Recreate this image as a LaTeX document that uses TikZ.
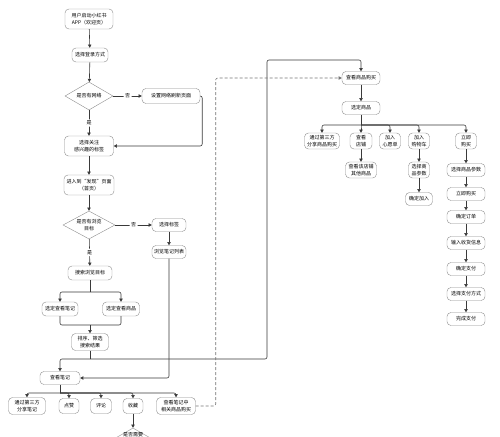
\documentclass[tikz,border=0pt]{standalone}
\usepackage{fontspec}
\setmainfont{Noto Sans CJK SC}
\usetikzlibrary{arrows.meta, shapes.geometric, positioning}
\definecolor{boxline}{HTML}{8C8C8C}
\definecolor{wire}{HTML}{3A3A3A}

\begin{document}
\begin{tikzpicture}[x=1pt, y=-1pt, >={Triangle[length=3.2pt,width=3.4pt]},
  flowbox/.style={draw=boxline, rounded corners=4pt, align=center, inner sep=1pt, font=\fontsize{5}{6.5}\selectfont},
  decide/.style={diamond, aspect=1.7, draw=boxline, inner sep=0pt, align=center, font=\fontsize{5}{6.5}\selectfont},
  link/.style={->, draw=wire, line width=0.6pt, rounded corners=2pt},
  plain/.style={draw=wire, line width=0.6pt, rounded corners=2pt},
  answer/.style={fill=white, inner sep=1.5pt, font=\fontsize{5}{6}\selectfont}]
  \useasboundingbox (0,0) rectangle (500,436);
  \clip (0,0) rectangle (500,436);
  % left column: start, network check
  \node[flowbox, minimum width=48pt, minimum height=20pt] (launch) at (89,19) {用户启动小红书\\APP（欢迎页）};
  \node[flowbox, minimum width=36pt, minimum height=14pt] (login) at (90,55) {选择登录方式};
  \node[decide, minimum width=48pt, minimum height=28pt] (hasnet) at (89,96) {是否有网络};
  \node[flowbox, minimum width=58pt, minimum height=15pt] (setnet) at (171,96) {设置网络刷新页面};
  \node[flowbox, minimum width=49pt, minimum height=20pt] (tags) at (89,146) {选择关注\\感兴趣的标签};
  \node[flowbox, minimum width=50pt, minimum height=20pt] (discover) at (89,185) {进入到“发现”页面\\（首页）};
  % browse target
  \node[decide, minimum width=52pt, minimum height=28pt] (hastarget) at (89,225) {是否有浏览\\目标};
  \node[flowbox, minimum width=34pt, minimum height=13pt] (picktag) at (169,225) {选择标签};
  \node[flowbox, minimum width=34pt, minimum height=13pt] (notelist) at (169,252) {浏览笔记列表};
  \node[flowbox, minimum width=44pt, minimum height=14pt] (search) at (90,273) {搜索浏览目标};
  \node[flowbox, minimum width=36pt, minimum height=14pt] (picknote) at (60,309) {选定查看笔记};
  \node[flowbox, minimum width=37pt, minimum height=14pt] (pickgoods) at (121,309) {选定查看商品};
  \node[flowbox, minimum width=37pt, minimum height=17pt] (sort) at (90,342) {排序、筛选\\搜索结果};
  % notes
  \node[flowbox, minimum width=40pt, minimum height=13pt] (viewnote) at (60,378) {查看笔记};
  \node[flowbox, minimum width=37pt, minimum height=17pt] (share) at (27,406) {通过第三方\\分享笔记};
  \node[flowbox, minimum width=20pt, minimum height=15pt] (like) at (69,406) {点赞};
  \node[flowbox, minimum width=21pt, minimum height=15pt] (comment) at (101,406) {评论};
  \node[flowbox, minimum width=20pt, minimum height=15pt] (collect) at (133,406) {收藏};
  \node[flowbox, minimum width=39pt, minimum height=17pt] (related) at (176,406) {查看笔记中\\相关商品购买};
  \node[decide, minimum width=56pt, minimum height=32pt] (needit) at (133,444) {};
  \node[font=\fontsize{5}{6}\selectfont, inner sep=0pt] (needtext) at (133,434.6) {是否需要};
  % right column: goods
  \node[flowbox, minimum width=38pt, minimum height=13pt] (buy) at (361,78) {查看商品购买};
  \node[flowbox, minimum width=38pt, minimum height=13pt] (pickitem) at (361,108) {选定商品};
  \node[flowbox, minimum width=35pt, minimum height=16pt] (shareitem) at (322,141) {通过第三方\\分享商品购买};
  \node[flowbox, minimum width=22pt, minimum height=16pt] (shop) at (361,141) {查看\\店铺};
  \node[flowbox, minimum width=21pt, minimum height=16pt] (wish) at (390,141) {加入\\心愿单};
  \node[flowbox, minimum width=21pt, minimum height=16pt] (cart) at (419,141) {加入\\购物车};
  \node[flowbox, minimum width=21pt, minimum height=16pt] (buyitem) at (466,141) {立即\\购买};
  \node[flowbox, minimum width=31pt, minimum height=16pt] (shopother) at (361,170) {查看该店铺\\其他商品};
  \node[flowbox, minimum width=21pt, minimum height=16pt] (param1) at (419,170) {选择商\\品参数};
  \node[flowbox, minimum width=27pt, minimum height=13pt] (addcart) at (419,199) {确定加入};
  \node[flowbox, minimum width=38pt, minimum height=13pt] (param2) at (466,170) {选择商品参数};
  \node[flowbox, minimum width=38pt, minimum height=13pt] (buynow) at (466,194) {立即购买};
  \node[flowbox, minimum width=38pt, minimum height=13pt] (order) at (466,217) {确定订单};
  \node[flowbox, minimum width=38pt, minimum height=13pt] (address) at (466,243) {输入收货信息};
  \node[flowbox, minimum width=38pt, minimum height=13pt] (pay) at (466,269) {确定支付};
  \node[flowbox, minimum width=38pt, minimum height=13pt] (paymode) at (466,294) {选择支付方式};
  \node[flowbox, minimum width=38pt, minimum height=13pt] (done) at (466,319) {完成支付};
  % junction points
  \coordinate (split) at (90,292);
  \coordinate (merge) at (90,325);
  \coordinate (fork) at (90,359);
  \coordinate (turn) at (267,60);
  \coordinate (spread) at (60,393);
  \coordinate (branch) at (361,125);
  % connectors, left
  \draw[link] (launch) -- (login);
  \draw[link] (login) -- (hasnet);
  \draw[link] (hasnet) -- node[answer] {否} (setnet);
  \draw[link] (hasnet) -- node[answer] {是} (tags);
  \draw[link] (setnet.east) -- ++(2,0) |- (tags.east);
  \draw[link] (tags) -- (discover);
  \draw[link] (discover) -- (hastarget);
  \draw[link] (hastarget) -- node[answer] {否} (picktag);
  \draw[link] (hastarget) -- node[answer] {是} (search);
  \draw[link] (picktag) -- (notelist);
  \draw[link] (notelist) |- (viewnote.east);
  \draw[plain] (search) -- (split);
  \draw[link] (split) -| (picknote);
  \draw[link] (split) -| (pickgoods);
  \draw[plain] (picknote) |- (merge) -| (pickgoods);
  \draw[link] (merge) -- (sort);
  \draw[plain] (sort) -- (fork);
  \draw[link] (fork) -| (viewnote);
  \draw[link] (fork) -| (turn) -| (buy);
  \draw[plain] (viewnote) -- (spread);
  \foreach \n in {share, like, comment, collect, related}
    \draw[link] (spread) -| (\n);
  \draw[link] (collect) -- (needit);
  \draw[link, draw=black!55, dash pattern=on 3pt off 2pt] (related.east) -- ++(20,0) |- (buy.west);
  % connectors, right
  \draw[link] (buy) -- (pickitem);
  \draw[plain] (pickitem) -- (branch);
  \foreach \n in {shareitem, shop, wish, cart, buyitem}
    \draw[link] (branch) -| (\n);
  \draw[link] (shop) -- (shopother);
  \draw[link] (cart) -- (param1);
  \draw[link] (param1) -- (addcart);
  \foreach \a/\b in {buyitem/param2, param2/buynow, buynow/order, order/address, address/pay, pay/paymode, paymode/done}
    \draw[link] (\a) -- (\b);
\end{tikzpicture}
\end{document}
